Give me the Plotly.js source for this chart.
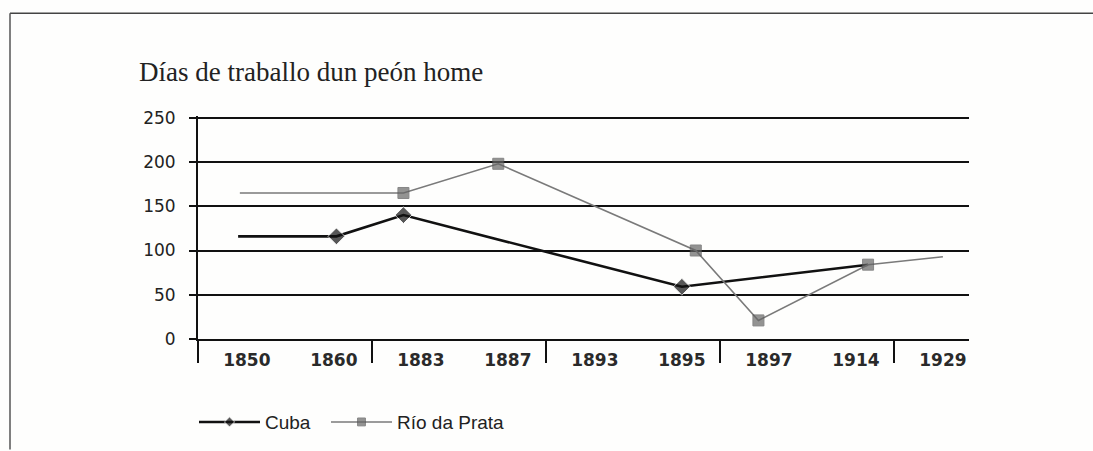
<!DOCTYPE html>
<html>
<head>
<meta charset="utf-8">
<script src="https://cdn.plot.ly/plotly-3.0.1.min.js"></script>
<style>html,body{margin:0;padding:0;background:#fff;}#chart{width:1093px;height:451px;}</style>
</head>
<body>
<div id="chart"></div>
<script>
// Category tick labels (evenly spaced category slots, index 0..8)
const categories = ["1850", "1860", "1883", "1887", "1893", "1895", "1897", "1914", "1929"];
const yTicks = [0, 50, 100, 150, 200, 250];

// Positions of the points along the category slots, as drawn in the original
const cubaX = [-0.10, 1.03, 1.80, 5.0, 7.14];
const cubaY = [116, 116, 140, 59, 84];
const cubaMarker = [0, 13, 13, 13, 0];

const rioX = [-0.08, 1.80, 2.89, 5.16, 5.88, 7.14, 8.0];
const rioY = [165, 165, 198, 100, 21, 84, 93];
const rioMarker = [0, 11, 11, 11, 11, 11, 0];

const L = 198, R = 969, B = 340;
const yTop = 252;
const T = B - yTop * (222 / 250);
const pw = R - L, ph = B - T;
const px = v => (v - L) / pw;
const py = v => (B - v) / ph;

const traces = [
  {
    x: cubaX, y: cubaY, name: "Cuba", type: "scatter", mode: "lines+markers",
    line: {color: "#111", width: 2.6},
    marker: {symbol: "diamond", size: cubaMarker, color: "#111"},
    legend: "legend"
  },
  {
    x: rioX, y: rioY, name: "Río da Prata", type: "scatter", mode: "lines+markers",
    line: {color: "#7a7a7a", width: 1.6},
    marker: {symbol: "square", size: rioMarker, color: "#666", line: {color: "#555", width: 1}},
    legend: "legend2"
  }
];

const legendStyle = {
  orientation: "h", xanchor: "left", y: py(422), yanchor: "middle",
  font: {family: "Liberation Sans, sans-serif", size: 19, color: "#222"},
  bgcolor: "rgba(0,0,0,0)", itemwidth: 61
};

const layout = {
  width: 1093, height: 451,
  paper_bgcolor: "#fefefd", plot_bgcolor: "rgba(0,0,0,0)",
  margin: {l: L, r: 1093 - R, t: T, b: 451 - B, pad: 0},
  showlegend: true,
  title: {
    text: "Días de traballo dun peón home",
    font: {family: "Liberation Serif, serif", size: 27, color: "#222"},
    xref: "container", x: 139 / 1093, xanchor: "left",
    yref: "container", y: 1 - 72 / 451, yanchor: "middle"
  },
  xaxis: {
    range: [-0.561, 8.30],
    tickmode: "array", tickvals: categories.map((c, i) => i), ticktext: categories,
    ticks: "", showgrid: false, zeroline: false,
    showline: true, linecolor: "#111", linewidth: 2,
    tickfont: {family: "DejaVu Sans, sans-serif", size: 17, color: "#2a2a2a", weight: "bold"},
    ticklabelstandoff: 5,
    minor: {tickmode: "linear", tick0: -0.56, dtick: 2, ticks: "outside", ticklen: 22, tickwidth: 2, tickcolor: "#111", showgrid: false},
    fixedrange: true
  },
  yaxis: {
    range: [0, yTop],
    tickmode: "array", tickvals: yTicks,
    ticks: "outside", ticklen: 7, tickwidth: 2, tickcolor: "#111",
    showgrid: true, gridcolor: "#111", gridwidth: 2,
    zeroline: false, showline: true, linecolor: "#111", linewidth: 2,
    tickfont: {family: "DejaVu Sans, sans-serif", size: 17, color: "#222"},
    ticklabelstandoff: 10,
    fixedrange: true
  },
  legend: Object.assign({}, legendStyle, {x: px(194)}),
  legend2: Object.assign({}, legendStyle, {x: px(326)}),
  shapes: [
    {type: "line", xref: "paper", yref: "paper", x0: px(10), x1: px(1093), y0: py(13), y1: py(13), line: {color: "#444", width: 1.5}},
    {type: "line", xref: "paper", yref: "paper", x0: px(10), x1: px(10), y0: py(13), y1: py(451), line: {color: "#555", width: 1.5}}
  ]
};

Plotly.newPlot("chart", traces, layout, {displayModeBar: false, staticPlot: true});
</script>
</body>
</html>
